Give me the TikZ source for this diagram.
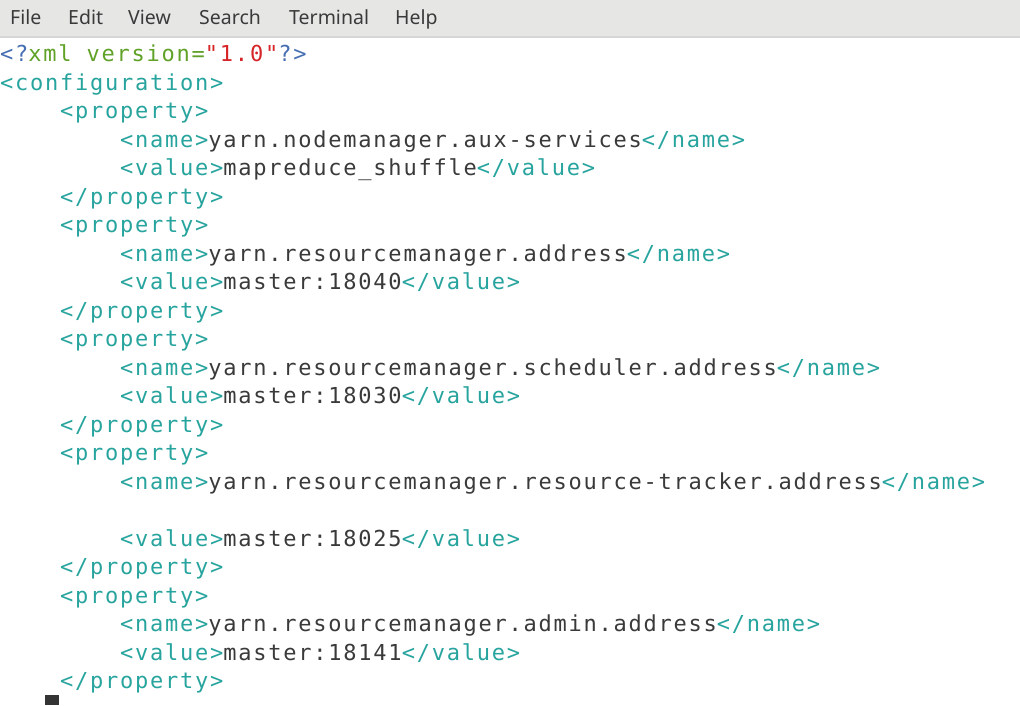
\documentclass[tikz,border=0pt]{standalone}
\usepackage{fontspec}
\usetikzlibrary{positioning}
\newfontfamily\termfont{DejaVu Sans Mono}[LetterSpace=8]
\newfontfamily\menufont{Noto Sans}
\definecolor{tagc}{RGB}{40,164,158}
\definecolor{txtc}{RGB}{58,58,58}
\definecolor{piblue}{RGB}{70,110,178}
\definecolor{attgreen}{RGB}{96,162,40}
\definecolor{strred}{RGB}{214,36,40}
\definecolor{barbg}{RGB}{230,230,229}
\definecolor{barline}{RGB}{214,214,214}
\newcommand{\tg}[1]{\textcolor{tagc}{#1}}
\tikzset{
  code/.style={anchor=base west, inner sep=0pt, text=txtc,
               font=\termfont\fontsize{22}{28}\selectfont},
  menu/.style={anchor=base west, inner sep=0pt, text=txtc,
               font=\menufont\fontsize{19.5}{24}\selectfont}
}

\begin{document}
\begin{tikzpicture}[x=1pt, y=-1pt]
      \useasboundingbox (0,0) rectangle (1020,705);
      \fill [white] (0,0) rectangle (1020,705);
      % menu bar
      \fill [barbg] (0,0) rectangle (1020,36);
      \fill [barline] (0,36) rectangle (1020,38);
      \node[menu] (file) at (10,24) {File};
      \node[menu] (edit) at (68,24) {Edit};
      \node[menu] (view) at (128,24) {View};
      \node[menu] (search) at (199,24) {Search};
      \node[menu] (terminal) at (289,24) {Terminal};
      \node[menu] (help) at (395,24) {Help};
      % file contents
      \node[code] (l0) at (0,61.5) {\textcolor{piblue}{<?}\textcolor{attgreen}{xml version=}\textcolor{strred}{"1.0"}\textcolor{piblue}{?>}};
      \node[code] (l1) at (0,61.5+1*28.5) {\tg{<configuration>}};
      \node[code] (l2) at (60,61.5+2*28.5) {\tg{<property>}};
      \node[code] (l3) at (120,61.5+3*28.5) {\tg{<name>}yarn.nodemanager.aux-services\tg{</name>}};
      \node[code] (l4) at (120,61.5+4*28.5) {\tg{<value>}mapreduce\_shuffle\tg{</value>}};
      \node[code] (l5) at (60,61.5+5*28.5) {\tg{</property>}};
      \node[code] (l6) at (60,61.5+6*28.5) {\tg{<property>}};
      \node[code] (l7) at (120,61.5+7*28.5) {\tg{<name>}yarn.resourcemanager.address\tg{</name>}};
      \node[code] (l8) at (120,61.5+8*28.5) {\tg{<value>}master:18040\tg{</value>}};
      \node[code] (l9) at (60,61.5+9*28.5) {\tg{</property>}};
      \node[code] (l10) at (60,61.5+10*28.5) {\tg{<property>}};
      \node[code] (l11) at (120,61.5+11*28.5) {\tg{<name>}yarn.resourcemanager.scheduler.address\tg{</name>}};
      \node[code] (l12) at (120,61.5+12*28.5) {\tg{<value>}master:18030\tg{</value>}};
      \node[code] (l13) at (60,61.5+13*28.5) {\tg{</property>}};
      \node[code] (l14) at (60,61.5+14*28.5) {\tg{<property>}};
      \node[code] (l15) at (120,61.5+15*28.5) {\tg{<name>}yarn.resourcemanager.resource-tracker.address\tg{</name>}};
      \node[code] (l17) at (120,61.5+17*28.5) {\tg{<value>}master:18025\tg{</value>}};
      \node[code] (l18) at (60,61.5+18*28.5) {\tg{</property>}};
      \node[code] (l19) at (60,61.5+19*28.5) {\tg{<property>}};
      \node[code] (l20) at (120,61.5+20*28.5) {\tg{<name>}yarn.resourcemanager.admin.address\tg{</name>}};
      \node[code] (l21) at (120,61.5+21*28.5) {\tg{<value>}master:18141\tg{</value>}};
      \node[code] (l22) at (60,61.5+22*28.5) {\tg{</property>}};
      % cursor
      \fill [txtc!90!black] (45,695) rectangle (59,705);
\end{tikzpicture}
\end{document}
